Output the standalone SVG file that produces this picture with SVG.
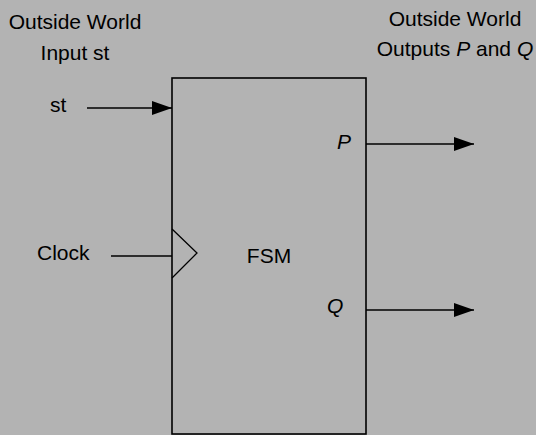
<svg xmlns="http://www.w3.org/2000/svg" width="536" height="435" viewBox="0 0 536 435">
<defs>
<style>
text{font-family:"Liberation Sans",Arial,sans-serif;font-size:21px;fill:#000}
.c{text-anchor:middle}
.i{font-style:italic}
.ln{stroke:#000;stroke-width:1.3;fill:none}
</style>
<marker id="ah" markerWidth="20" markerHeight="14" refX="20" refY="7" orient="auto" markerUnits="userSpaceOnUse">
<path d="M0,0 L20,7 L0,14 Z" fill="#000"/>
</marker>
</defs>
<rect width="536" height="435" fill="#b3b3b3"/>
<g id="labels">
<text class="c" x="75" y="29">Outside World</text>
<text class="c" x="75" y="60">Input st</text>
<text class="c" x="455" y="26">Outside World</text>
<text class="c" x="455" y="56">Outputs <tspan class="i">P</tspan> and <tspan class="i">Q</tspan></text>
</g>
<g id="fsm">
<rect x="172" y="78" width="194" height="356" fill="none" stroke="#000" stroke-width="1.6"/>
<path class="ln" d="M172,229 L197,253 L172,278"/>
<text class="c" x="269" y="263">FSM</text>
<text class="i" x="337" y="149">P</text>
<text class="i" x="327" y="313">Q</text>
</g>
<g id="st">
<text x="50" y="112">st</text>
</g>
<g id="clock">
<text x="37" y="260">Clock</text>
</g>
<g id="connectors">
<line class="ln" x1="87" y1="108" x2="172" y2="108" marker-end="url(#ah)"/>
<line class="ln" x1="111" y1="256" x2="172" y2="256"/>
<line class="ln" x1="366" y1="144" x2="474" y2="144" marker-end="url(#ah)"/>
<line class="ln" x1="366" y1="310" x2="474" y2="310" marker-end="url(#ah)"/>
</g>
</svg>
